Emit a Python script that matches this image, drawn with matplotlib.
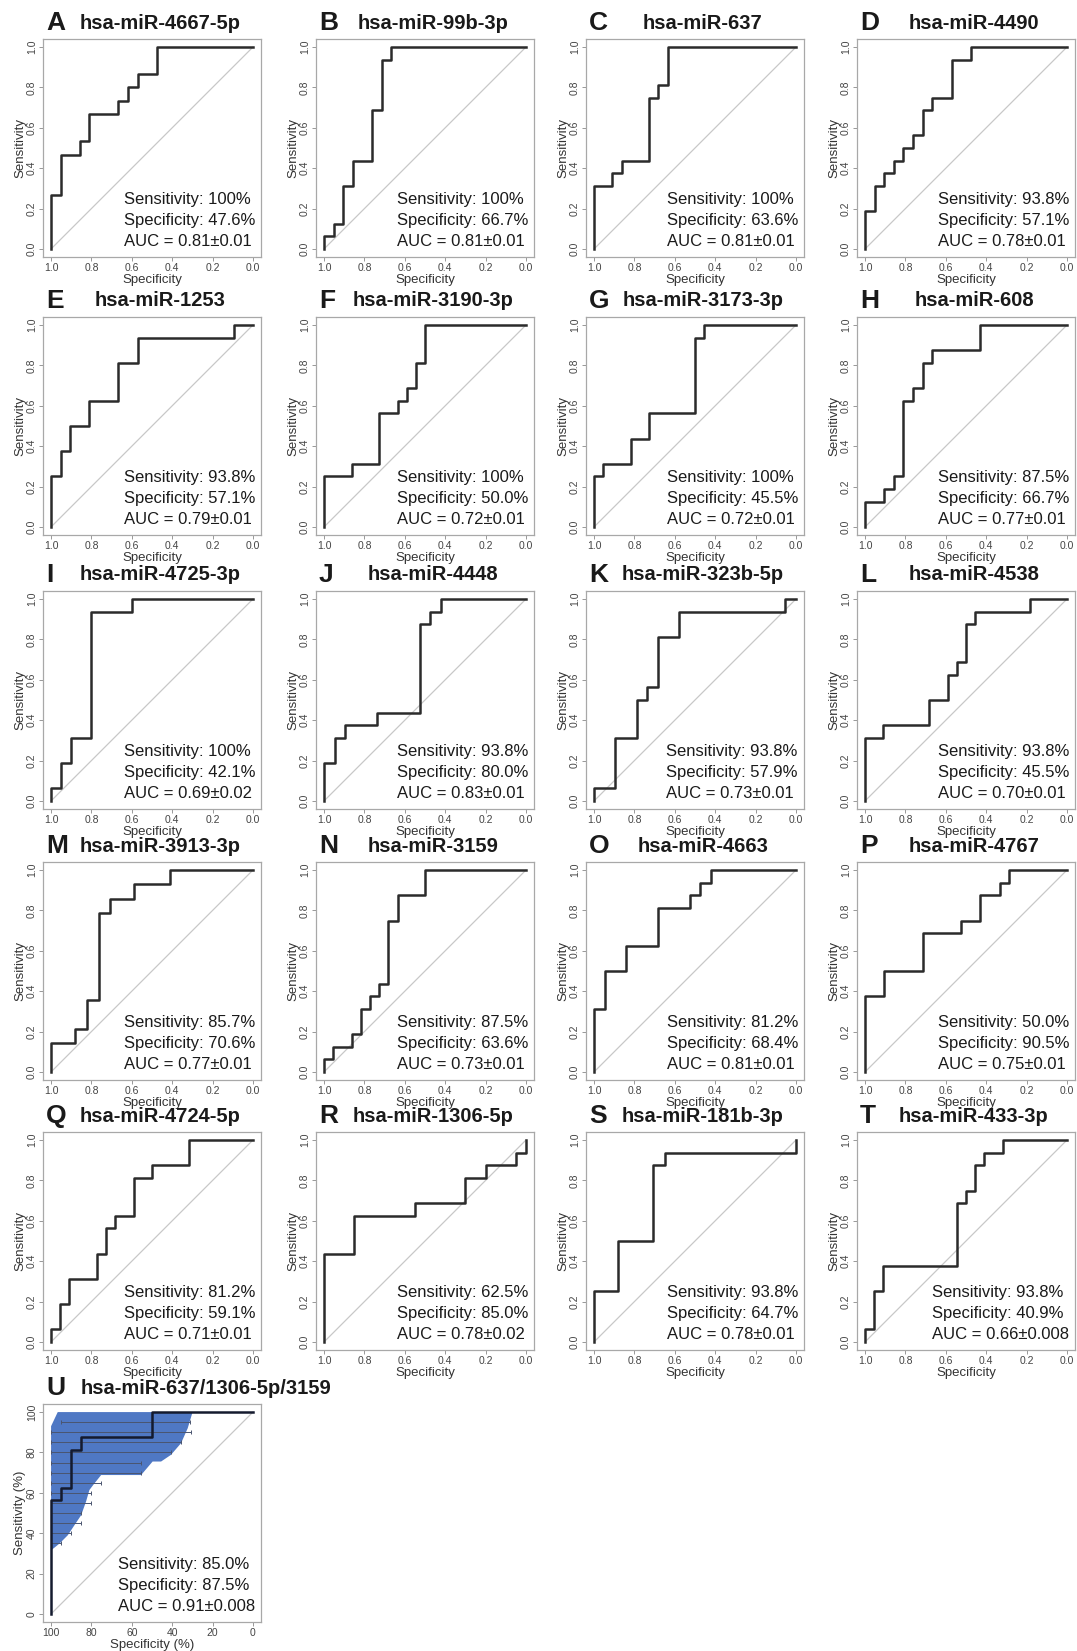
import numpy as np
import matplotlib
matplotlib.use("Agg")
import matplotlib.pyplot as plt

plt.rcParams['font.family'] = ['Liberation Sans', 'DejaVu Sans']

# panel labels and miRNA names
letters = list("ABCDEFGHIJKLMNOPQRST")
names = ["hsa-miR-4667-5p", "hsa-miR-99b-3p", "hsa-miR-637", "hsa-miR-4490",
         "hsa-miR-1253", "hsa-miR-3190-3p", "hsa-miR-3173-3p", "hsa-miR-608",
         "hsa-miR-4725-3p", "hsa-miR-4448", "hsa-miR-323b-5p", "hsa-miR-4538",
         "hsa-miR-3913-3p", "hsa-miR-3159", "hsa-miR-4663", "hsa-miR-4767",
         "hsa-miR-4724-5p", "hsa-miR-1306-5p", "hsa-miR-181b-3p", "hsa-miR-433-3p"]
sens_best = ["100%", "100%", "100%", "93.8%", "93.8%", "100%", "100%", "87.5%",
             "100%", "93.8%", "93.8%", "93.8%", "85.7%", "87.5%", "81.2%", "50.0%",
             "81.2%", "62.5%", "93.8%", "93.8%"]
spec_best = ["47.6%", "66.7%", "63.6%", "57.1%", "57.1%", "50.0%", "45.5%", "66.7%",
             "42.1%", "80.0%", "57.9%", "45.5%", "70.6%", "63.6%", "68.4%", "90.5%",
             "59.1%", "85.0%", "64.7%", "40.9%"]
auc_txt = ["0.81±0.01", "0.81±0.01", "0.81±0.01", "0.78±0.01", "0.79±0.01", "0.72±0.01",
           "0.72±0.01", "0.77±0.01", "0.69±0.02", "0.83±0.01", "0.73±0.01", "0.70±0.01",
           "0.77±0.01", "0.73±0.01", "0.81±0.01", "0.75±0.01", "0.71±0.01", "0.78±0.02",
           "0.78±0.01", "0.66±0.008"]

# ROC corner points (specificity, sensitivity), step drawn vertical-then-horizontal
roc_spec = [
    [1, .952, .857, .810, .667, .619, .571, .476, 0],
    [1, .952, .905, .857, .762, .714, .667, 0],
    [1, .909, .864, .727, .682, .636, 0],
    [1, .952, .905, .857, .810, .762, .714, .667, .571, .476, 0],
    [1, .952, .905, .810, .667, .571, .095, 0],
    [1, .864, .727, .636, .591, .545, .5, 0],
    [1, .955, .818, .727, .5, .455, 0],
    [1, .905, .857, .810, .762, .714, .667, .429, 0],
    [1, .95, .9, .8, .6, 0],
    [1, .947, .895, .737, .526, .474, .421, 0],
    [1, .895, .789, .737, .684, .579, .053, 0],
    [1, .909, .682, .591, .545, .5, .455, .182, 0],
    [1, .882, .824, .765, .706, .588, .412, 0],
    [1, .955, .864, .818, .773, .727, .682, .636, .5, 0],
    [1, .947, .842, .684, .526, .474, .421, 0],
    [1, .905, .714, .524, .429, .333, .286, 0],
    [1, .955, .909, .773, .727, .682, .591, .5, .318, 0],
    [1, .85, .55, .3, .2, .05, 0, 0],
    [1, .882, .706, .647, 0, 0],
    [1, .955, .909, .545, .5, .455, .409, .318, 0],
]
roc_sens = [
    [0, .267, .467, .533, .667, .733, .8, .867, 1],
    [0, .0625, .125, .3125, .4375, .6875, .9375, 1],
    [0, .3125, .375, .4375, .75, .8125, 1],
    [0, .1875, .3125, .375, .4375, .5, .5625, .6875, .75, .9375, 1],
    [0, .25, .375, .5, .625, .8125, .9375, 1],
    [0, .25, .3125, .5625, .625, .6875, .8125, 1],
    [0, .25, .3125, .4375, .5625, .9375, 1],
    [0, .125, .1875, .25, .625, .6875, .8125, .875, 1],
    [0, .0625, .1875, .3125, .9375, 1],
    [0, .1875, .3125, .375, .4375, .875, .9375, 1],
    [0, .0625, .3125, .5, .5625, .8125, .9375, 1],
    [0, .3125, .375, .5, .625, .6875, .875, .9375, 1],
    [0, .143, .214, .357, .786, .857, .929, 1],
    [0, .0625, .125, .1875, .3125, .375, .4375, .75, .875, 1],
    [0, .3125, .5, .625, .8125, .875, .9375, 1],
    [0, .375, .5, .6875, .75, .875, .9375, 1],
    [0, .0625, .1875, .3125, .4375, .5625, .625, .8125, .875, 1],
    [0, .4375, .625, .6875, .8125, .875, .9375, 1],
    [0, .25, .5, .875, .9375, 1],
    [0, .0625, .25, .375, .6875, .75, .875, .9375, 1],
]

# combined panel U (percent)
combo_spec = [100, 95, 90, 85, 50, 0]
combo_sens = [0, 56.25, 62.5, 81.25, 87.5, 100]
shape_spec = [100, 100, 96.7, 29.9, 32.3, 35.6, 40.6, 45.5, 49.7, 55.4, 75.2, 78.5,
              81.0, 82.7, 85.1, 88.4, 91.7, 95.9]
shape_sens = [31.5, 93, 100, 100, 92, 84.6, 78.8, 75.5, 75.5, 68.8, 68.8, 64.7,
              61.4, 55.6, 48.9, 44, 39, 34.8]
ci_levels = [95, 90, 85, 80, 75, 70, 65, 60, 55, 50, 45, 40, 35]
ci_low = [95, 100, 100, 100, 100, 100, 100, 100, 100, 100, 100, 100, 100]
ci_high = [31, 30.7, 35.6, 40.6, 55.4, 55.4, 75.2, 80.2, 80.2, 85.1, 85.1, 90.1, 95]

W, H = 1077, 1651
col_left = [43, 316, 586, 857]
row_top = [39, 317, 591, 862, 1132, 1404]
BOX = 218

fig = plt.figure(figsize=(W / 100, H / 100), dpi=100)


def make_axes(left, top):
    return fig.add_axes([left / W, 1 - (top + BOX) / H, BOX / W, BOX / H])


def style(ax, ticks, labels, xlab, ylab):
    for s in ax.spines.values():
        s.set_color('#a8a8a8')
        s.set_linewidth(0.9)
    ax.set_xticks(ticks)
    ax.set_xticklabels(labels)
    ax.set_yticks(ticks)
    ax.set_yticklabels(labels, rotation=90, va='center')
    ax.tick_params(direction='out', length=3, width=0.6, color='#888888',
                   labelcolor='#444444', labelsize=7.5, pad=1.5)
    ax.set_xlabel(xlab, fontsize=9.5, labelpad=0.5, color='#333333')
    ax.set_ylabel(ylab, fontsize=9.5, labelpad=0.5, color='#333333')


def titles(ax, letter, name, centered=True):
    ty = 1 + 16 / BOX
    ax.text(3 / BOX, ty, letter, transform=ax.transAxes, fontsize=19,
            fontweight='bold', ha='left', va='center', color='#1a1a1a')
    if centered:
        ax.text(0.5 + 8 / BOX, ty, name, transform=ax.transAxes, fontsize=14.5,
                fontweight='bold', ha='center', va='center', color='#1a1a1a')
    else:
        ax.text(38 / BOX, ty, name, transform=ax.transAxes, fontsize=14.5,
                fontweight='bold', ha='left', va='center', color='#1a1a1a')


def stats(ax, s, p, a):
    ax.text(1 - 6 / BOX, 8 / BOX, f"Sensitivity: {s}\nSpecificity: {p}\nAUC = {a}",
            transform=ax.transAxes, ha='right', va='bottom', multialignment='left',
            fontsize=12, linespacing=1.48, color='#1a1a1a')


ticks = [1.0, 0.8, 0.6, 0.4, 0.2, 0.0]
tick_lab = ["1.0", "0.8", "0.6", "0.4", "0.2", "0.0"]

for i in range(20):
    r, c = divmod(i, 4)
    ax = make_axes(col_left[c], row_top[r])
    ax.plot([1, 0], [0, 1], color='#c8c8c8', lw=0.9)
    ax.plot(roc_spec[i], roc_sens[i], drawstyle='steps-pre', color='#2b2b2b', lw=1.8)
    ax.set_xlim(1.04, -0.04)
    ax.set_ylim(-0.04, 1.04)
    style(ax, ticks, tick_lab, "Specificity", "Sensitivity")
    titles(ax, letters[i], names[i])
    stats(ax, sens_best[i], spec_best[i], auc_txt[i])

# panel U
ax = make_axes(col_left[0], row_top[5])
ax.fill(shape_spec, shape_sens, color='#4f78c4', lw=0)
ci_low = np.array(ci_low, float)
ci_high = np.array(ci_high, float)
ax.errorbar((ci_low + ci_high) / 2, ci_levels, xerr=(ci_low - ci_high) / 2, fmt='none',
            ecolor='#4a5570', elinewidth=0.7, capsize=1.5, capthick=0.7)
ax.plot([100, 0], [0, 100], color='#c8c8c8', lw=0.9)
ax.plot(combo_spec, combo_sens, drawstyle='steps-pre', color='#141a2e', lw=1.8)
ax.set_xlim(104, -4)
ax.set_ylim(-4, 104)
pct = [100, 80, 60, 40, 20, 0]
style(ax, pct, [str(v) for v in pct], "Specificity (%)", "Sensitivity (%)")
titles(ax, "U", "hsa-miR-637/1306-5p/3159", centered=False)
stats(ax, "85.0%", "87.5%", "0.91±0.008")

fig.savefig("out.png", dpi=100)
